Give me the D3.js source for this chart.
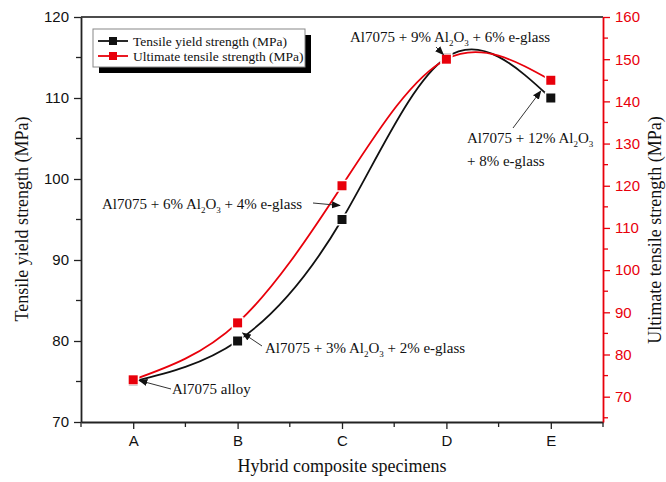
<!DOCTYPE html>
<html>
<head>
<meta charset="utf-8">
<script src="https://cdn.jsdelivr.net/npm/d3@7"></script>
<style>
  body { margin: 0; background: #fff; }
  text { font-family: "Liberation Serif", "Times New Roman", serif; }
  .tick text { font-family: "Liberation Sans", Arial, sans-serif; font-size: 15px; }
</style>
</head>
<body>
<svg width="666" height="482"></svg>
<script>
// data
var specimens = ['A', 'B', 'C', 'D', 'E'];
var yieldStrength = [75, 80, 95, 115, 110];
var ultimateStrength = [74, 87.5, 120, 150, 145];
var leftTicks = [70, 80, 90, 100, 110, 120];
var rightTicks = [70, 80, 90, 100, 110, 120, 130, 140, 150, 160];

var width = 666, height = 482;
var plotL = 81, plotR = 603, plotT = 17, plotB = 422;
var red = '#e8000b';

var svg = d3.select('svg');

var x = d3.scaleLinear().domain([-0.5, specimens.length - 0.5]).range([plotL, plotR]);
var yL = d3.scaleLinear().domain([70, 120]).range([plotB, plotT]);
var yR = d3.scaleLinear().domain([64, 160]).range([plotB, plotT]);

// arrow head
svg.append('defs').append('marker')
   .attr('id', 'arr')
   .attr('viewBox', '0 0 10 10')
   .attr('refX', 9).attr('refY', 5)
   .attr('markerWidth', 9).attr('markerHeight', 9)
   .attr('markerUnits', 'userSpaceOnUse')
   .attr('orient', 'auto')
   .append('path').attr('d', 'M0,1 L10,5 L0,9 z').attr('fill', '#111');

// top frame line
svg.append('line')
   .attr('x1', plotL).attr('x2', plotR).attr('y1', plotT).attr('y2', plotT)
   .attr('stroke', '#111').attr('stroke-width', 1.5);

// bottom axis
var xAxis = svg.append('g')
   .attr('transform', 'translate(0,' + plotB + ')')
   .call(d3.axisBottom(x).tickValues(d3.range(specimens.length))
           .tickFormat(function(i) { return specimens[i]; })
           .tickSize(7).tickSizeOuter(0).tickPadding(6));
xAxis.append('g').selectAll('line')
   .data(d3.range(-0.5, specimens.length, 1))
   .enter().append('line')
   .attr('x1', d => x(d)).attr('x2', d => x(d))
   .attr('y1', 0).attr('y2', 5)
   .attr('stroke', '#111');

// left axis
var yAxisL = svg.append('g')
   .attr('transform', 'translate(' + plotL + ',0)')
   .call(d3.axisLeft(yL).tickValues(leftTicks).tickSize(7).tickSizeOuter(0).tickPadding(5));
yAxisL.append('g').selectAll('line')
   .data(d3.range(75, 120, 10))
   .enter().append('line')
   .attr('x1', 0).attr('x2', -5)
   .attr('y1', d => yL(d)).attr('y2', d => yL(d))
   .attr('stroke', '#333');

// right axis (red)
var yAxisR = svg.append('g')
   .attr('transform', 'translate(' + plotR + ',0)')
   .call(d3.axisRight(yR).tickValues(rightTicks).tickSize(7).tickSizeOuter(0).tickPadding(5));
yAxisR.append('g').selectAll('line')
   .data(d3.range(65, 160, 10))
   .enter().append('line')
   .attr('x1', 0).attr('x2', 5)
   .attr('y1', d => yR(d)).attr('y2', d => yR(d));
yAxisR.selectAll('line, path').attr('stroke', red);
yAxisR.selectAll('text').attr('fill', red);

[xAxis, yAxisL].forEach(function(g) {
  g.selectAll('path.domain').attr('stroke', '#222').attr('stroke-width', 1.8);
  g.selectAll('line').attr('stroke', '#222').attr('stroke-width', 1.3);
  g.selectAll('text').attr('fill', '#111');
});
yAxisR.select('path.domain').attr('stroke-width', 1.8);
yAxisR.selectAll('line').attr('stroke-width', 1.3);

// axis titles
svg.append('text')
   .attr('x', (plotL + plotR) / 2).attr('y', 472)
   .attr('text-anchor', 'middle').attr('font-size', 18).attr('fill', '#111')
   .text('Hybrid composite specimens');
svg.append('text')
   .attr('transform', 'translate(28,219) rotate(-90)')
   .attr('text-anchor', 'middle').attr('font-size', 18).attr('fill', '#111')
   .text('Tensile yield strength (MPa)');
svg.append('text')
   .attr('transform', 'translate(661,230) rotate(-90)')
   .attr('text-anchor', 'middle').attr('font-size', 18).attr('fill', '#111')
   .text('Ultimate tensile strength (MPa)');

// series
var series = [
  { values: yieldStrength, scale: yL, color: '#111' },
  { values: ultimateStrength, scale: yR, color: red }
];

series.forEach(function(s) {
  var line = d3.line()
     .x(function(d, i) { return x(i); })
     .y(function(d) { return s.scale(d); })
     .curve(d3.curveNatural);
  svg.append('path')
     .datum(s.values)
     .attr('d', line)
     .attr('fill', 'none')
     .attr('stroke', s.color)
     .attr('stroke-width', 1.8);
});

series.forEach(function(s) {
  svg.append('g').selectAll('rect')
     .data(s.values)
     .enter().append('rect')
     .attr('x', function(d, i) { return x(i) - 4.5; })
     .attr('y', function(d) { return s.scale(d) - 4.5; })
     .attr('width', 9).attr('height', 9)
     .attr('fill', s.color)
     .attr('stroke', '#fff').attr('stroke-width', 3)
     .attr('paint-order', 'stroke');
});

// annotations: formula text with subscripts
function chem(t, parts, size) {
  var shift = 0;
  parts.forEach(function(p) {
    var sp = t.append('tspan');
    if (typeof p === 'string') {
      if (shift) sp.attr('dy', -shift);
      shift = 0;
      sp.text(p);
    } else {
      sp.attr('font-size', size * 0.6).attr('dy', 4 - shift).text(p.s);
      shift = 4;
    }
  });
}

var notes = [
  { i: 0, dx: 6, dy: -1, from: [171, 389], lines: [{ x: 172, y: 394, parts: ['Al7075 alloy'] }] },
  { i: 1, dx: 5, dy: -8, from: [262, 346], lines: [{ x: 265, y: 353, parts: ['Al7075 + 3% Al', { s: '2' }, 'O', { s: '3' }, ' + 2% e-glass'] }] },
  { i: 2, dx: -2, dy: -14, from: [313, 203], lines: [{ x: 102, y: 209, parts: ['Al7075 + 6% Al', { s: '2' }, 'O', { s: '3' }, ' + 4% e-glass'] }] },
  { i: 3, dx: -3, dy: -3, from: [436, 47], lines: [{ x: 350, y: 42, parts: ['Al7075 + 9% Al', { s: '2' }, 'O', { s: '3' }, ' + 6% e-glass'] }] },
  { i: 4, dx: -10, dy: -7, from: [513, 128], lines: [
      { x: 467, y: 143, parts: ['Al7075 + 12% Al', { s: '2' }, 'O', { s: '3' }] },
      { x: 467, y: 166, parts: ['+ 8% e-glass'] }] }
];

notes.forEach(function(n) {
  svg.append('line')
     .attr('x1', n.from[0]).attr('y1', n.from[1])
     .attr('x2', x(n.i) + n.dx).attr('y2', yL(yieldStrength[n.i]) + n.dy)
     .attr('stroke', '#333').attr('stroke-width', 1)
     .attr('marker-end', 'url(#arr)');
  n.lines.forEach(function(l) {
    var t = svg.append('text')
       .attr('x', l.x).attr('y', l.y)
       .attr('font-size', 15).attr('fill', '#111');
    chem(t, l.parts, 15);
  });
});

// legend
var lg = svg.append('g').attr('transform', 'translate(93,29)');
lg.append('rect').attr('x', 6).attr('y', 6).attr('width', 212).attr('height', 38).attr('fill', '#000');
lg.append('rect').attr('x', 0).attr('y', 0).attr('width', 212).attr('height', 38)
  .attr('fill', '#fff').attr('stroke', '#888').attr('stroke-width', 1);
var legendNames = ['Tensile yield strength (MPa)', 'Ultimate tensile strength (MPa)'];
series.forEach(function(s, k) {
  var yy = 12 + k * 15;
  lg.append('line').attr('x1', 5).attr('x2', 35).attr('y1', yy).attr('y2', yy)
    .attr('stroke', s.color).attr('stroke-width', 1.8);
  lg.append('rect').attr('x', 16).attr('y', yy - 4).attr('width', 8).attr('height', 8).attr('fill', s.color);
  lg.append('text').attr('x', 40).attr('y', yy + 4.5)
    .attr('font-size', 13.5).attr('fill', '#111').text(legendNames[k]);
});
</script>
</body>
</html>
